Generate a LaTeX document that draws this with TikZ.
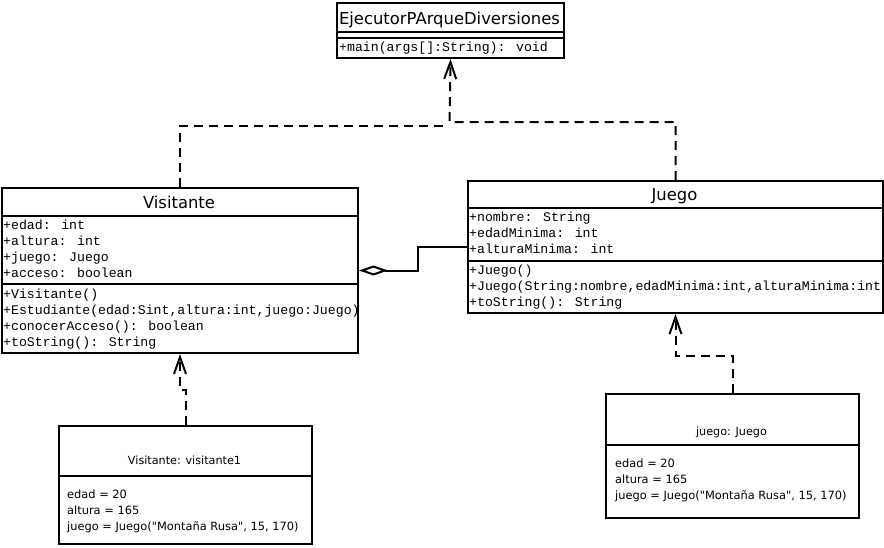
\documentclass[tikz,border=0pt]{standalone}
\usepackage{fontspec}
\newfontfamily\sansf{DejaVu Sans}
\newfontfamily\monof{Liberation Mono}
\usetikzlibrary{arrows.meta}
\begin{document}
\begin{tikzpicture}[x=1pt,y=-1pt,
  umlbox/.style={draw,line width=2pt,rectangle,inner sep=0pt,anchor=north west},
  sepline/.style={line width=2pt},
  ctitle/.style={inner sep=0pt,anchor=base,font=\sansf\fontsize{16.4}{18}\selectfont},
  member/.style={inner sep=0pt,anchor=base west,font=\monof\fontsize{13.2}{16}\selectfont},
  otitle/.style={inner sep=0pt,anchor=base,font=\sansf\fontsize{11.2}{13}\selectfont},
  oattr/.style={inner sep=0pt,anchor=base west,font=\sansf\fontsize{11.4}{13}\selectfont},
  depline/.style={line width=2pt,dash pattern=on 9pt off 6pt},
  deparrow/.style={depline,-{Straight Barb[length=17pt,width=12pt,line width=2pt]}},
  aggline/.style={line width=2pt,{Diamond[open,length=29pt,width=10pt,line width=2pt]}-}
]
\fill[white] (0,0) rectangle (884,547);
\path[use as bounding box] (0,0) rectangle (884,547);

% EjecutorPArqueDiversiones
\node[umlbox,minimum width=227pt,minimum height=55pt] (ejec) at (336,2) {};
\draw[sepline] (336,32) -- (563,32);
\draw[sepline] (336,38) -- (563,38);
\node[ctitle] (eject) at (449.5,24) {EjecutorPArqueDiversiones};
\node[member] (ejecm) at (339,51) {+main(args[]:String): void};

% Visitante
\node[umlbox,minimum width=356pt,minimum height=165pt] (vis) at (1,187) {};
\draw[sepline] (1,216) -- (357,216);
\draw[sepline] (1,284) -- (357,284);
\node[ctitle] (vist) at (179,208) {Visitante};
\node[member] (visa1) at (3,229) {+edad: int};
\node[member] (visa2) at (3,245) {+altura: int};
\node[member] (visa3) at (3,261) {+juego: Juego};
\node[member] (visa4) at (3,277) {+acceso: boolean};
\node[member] (vism1) at (3,298) {+Visitante()};
\node[member] (vism2) at (3,314) {+Estudiante(edad:Sint,altura:int,juego:Juego)};
\node[member] (vism3) at (3,330) {+conocerAcceso(): boolean};
\node[member] (vism4) at (3,346) {+toString(): String};

% Juego
\node[umlbox,minimum width=415pt,minimum height=132pt] (jue) at (467,180) {};
\draw[sepline] (467,208) -- (882,208);
\draw[sepline] (467,261) -- (882,261);
\node[ctitle] (juet) at (674.5,200) {Juego};
\begin{scope}
\clip (467,180) rectangle (881,312);
\node[member] (juea1) at (469,221) {+nombre: String};
\node[member] (juea2) at (469,237) {+edadMinima: int};
\node[member] (juea3) at (469,253) {+alturaMinima: int};
\node[member] (juem1) at (469,274) {+Juego()};
\node[member] (juem2) at (469,290) {+Juego(String:nombre,edadMinima:int,alturaMinima:int};
\node[member] (juem3) at (469,306) {+toString(): String};
\end{scope}

% Object visitante1
\node[umlbox,minimum width=253pt,minimum height=118pt] (obj1) at (58,425) {};
\draw[sepline] (58,476) -- (311,476);
\node[otitle] (obj1t) at (184.5,464) {Visitante: visitante1};
\node[oattr] (obj1a1) at (67,498) {edad = 20};
\node[oattr] (obj1a2) at (67,514) {altura = 165};
\node[oattr] (obj1a3) at (67,530) {juego = Juego("Montaña Rusa", 15, 170)};

% Object juego
\node[umlbox,minimum width=253pt,minimum height=124pt] (obj2) at (605,393) {};
\draw[sepline] (605,445) -- (858,445);
\node[otitle] (obj2t) at (731.5,435) {juego: Juego};
\node[oattr] (obj2a1) at (615,467) {edad = 20};
\node[oattr] (obj2a2) at (615,483) {altura = 165};
\node[oattr] (obj2a3) at (615,499) {juego = Juego("Montaña Rusa", 15, 170)};

% Connectors
\coordinate (mergeL) at (447,126);
\coordinate (mergeR) at (449.5,122);
\coordinate (aggc) at (418,246);
\draw[depline] (vis.north) |- (mergeL);
\draw[deparrow] (jue.north) |- (mergeR) -- (ejec.south);
\draw[aggline] (vis.east) -| (aggc) |- (jue.west);
\draw[deparrow] (obj1.north) -- ++(0,-35) -| (vis.south);
\draw[deparrow] (obj2.north) -- ++(0,-37) -| (jue.south);
\end{tikzpicture}
\end{document}
